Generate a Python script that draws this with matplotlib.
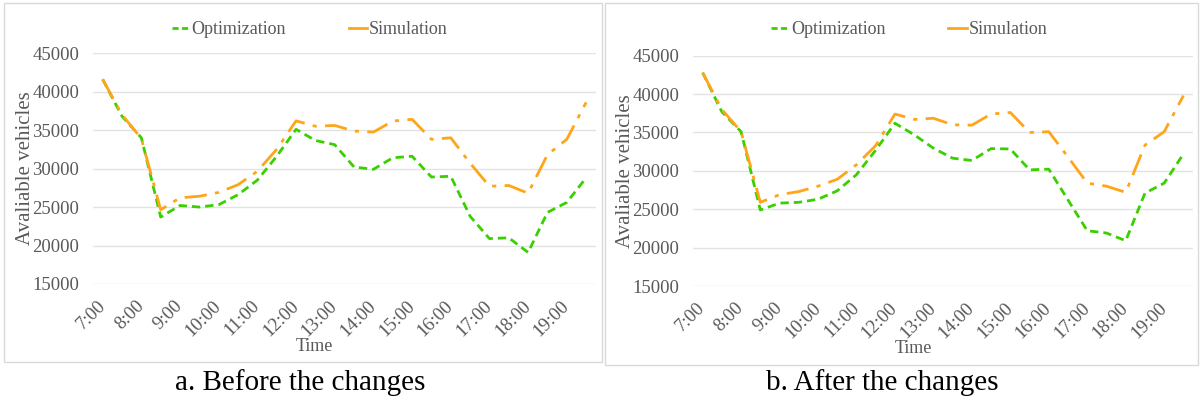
import matplotlib
matplotlib.use('Agg')
import matplotlib.pyplot as plt
from matplotlib.patches import Rectangle

plt.rcParams['font.family'] = ['Liberation Serif', 'DejaVu Serif']

# half-hour time steps 7:00 .. 19:30
times = ['7:00', '7:30', '8:00', '8:30', '9:00', '9:30', '10:00', '10:30', '11:00', '11:30',
         '12:00', '12:30', '13:00', '13:30', '14:00', '14:30', '15:00', '15:30', '16:00', '16:30',
         '17:00', '17:30', '18:00', '18:30', '19:00', '19:30']
tick_labels = ['7:00', '8:00', '9:00', '10:00', '11:00', '12:00', '13:00',
               '14:00', '15:00', '16:00', '17:00', '18:00', '19:00']

# a. Before the changes
opt_before = [41600, 36800, 34000, 23700, 25200, 25000, 25300, 26600, 28500, 31600,
              35100, 33650, 33100, 30200, 29900, 31400, 31600, 28900, 29000, 23800,
              20900, 21000, 19100, 24300, 25600, 28800]
sim_before = [41600, 37000, 33900, 24650, 26200, 26400, 26900, 27900, 29650, 32500,
              36200, 35500, 35600, 34870, 34740, 36170, 36400, 33800, 34000, 30700,
              27700, 27800, 26800, 31800, 33800, 38600]

# b. After the changes
opt_after = [42800, 37700, 35100, 24900, 25800, 25900, 26300, 27400, 29500, 32700,
             36200, 34700, 32950, 31650, 31350, 32900, 32850, 30130, 30220, 26200,
             22200, 21900, 20900, 27100, 28400, 32200]
sim_after = [42800, 38000, 35100, 25900, 26900, 27300, 28000, 28900, 30800, 33300,
             37400, 36700, 36850, 36000, 35950, 37400, 37600, 35000, 35100, 31800,
             28400, 28000, 27200, 33350, 35100, 39800]

green = '#3ad000'
orange = '#ffa519'
gray = '#595959'

fig = plt.figure(figsize=(12, 4.05), dpi=100)

panels = [
    (opt_before, sim_before, [0.0775, 0.2988, 0.419, 0.570], 'a. Before the changes',
     (0.003, 0.107, 0.499, 0.886), 0.25, 0.258),
    (opt_after, sim_after, [0.5775, 0.2938, 0.4167, 0.5687], 'b. After the changes',
     (0.504, 0.100, 0.494, 0.893), 0.735, 0.7575),
]

for opt, sim, pos, caption, box, cap_x, leg_x in panels:
    fig.patches.append(Rectangle((box[0], box[1]), box[2], box[3], transform=fig.transFigure,
                                 fill=False, edgecolor='#d9d9d9', linewidth=1))
    ax = fig.add_axes(pos)
    x = list(range(len(times)))
    ax.plot(x, opt, color=green, linestyle=(0, (3, 1.8)), linewidth=2.0, label='Optimization')
    ax.plot(x, sim, color=orange, linestyle=(0, (8, 3, 1.5, 3)), linewidth=2.0, label='Simulation')
    ax.set_xlim(-0.5, len(times) - 0.5)
    ax.set_ylim(15000, 45000)
    ax.set_yticks(range(15000, 45001, 5000))
    ax.set_xticks(x[::2])
    ax.set_xticklabels(tick_labels, rotation=45, ha='right', va='center',
                       rotation_mode='anchor')
    ax.tick_params(axis='both', length=0, labelsize=13.5, labelcolor=gray)
    ax.tick_params(axis='x', pad=14)
    ax.tick_params(axis='y', pad=10)
    ax.grid(axis='y', color='#e3e3e3', linewidth=1)
    ax.set_axisbelow(True)
    for s in ax.spines.values():
        s.set_visible(False)
    ax.set_ylabel('Avaliable vehicles', fontsize=15, color=gray, labelpad=-2)
    ax.text(0.44, -0.27, 'Time', transform=ax.transAxes, ha='center', va='center',
            fontsize=13, color=gray)
    leg = ax.legend(loc='center', bbox_to_anchor=(leg_x, 0.926), bbox_transform=fig.transFigure,
                    ncol=2, frameon=False, fontsize=13, labelcolor=gray, handlelength=1.0,
                    handletextpad=0.1, columnspacing=3.5, borderpad=0)
    # legend keys: short dashes for optimization, solid stub for simulation
    leg.get_lines()[0].set_linestyle((0, (2.2, 1.2)))
    leg.get_lines()[1].set_linestyle('-')
    fig.text(cap_x, 0.055, caption, ha='center', va='center', fontsize=21, color='black')

fig.savefig('out.png', dpi=100)
